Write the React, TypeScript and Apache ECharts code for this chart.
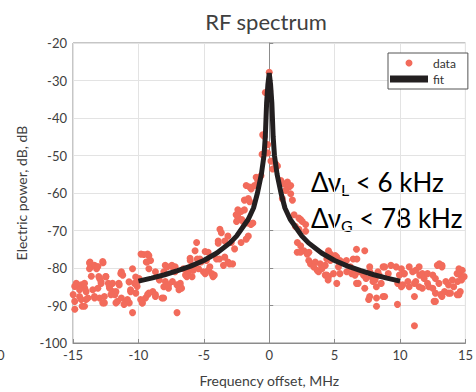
import React, { useEffect, useRef } from "react";
import * as echarts from "echarts";

const xTicks = [-15, -10, -5, 0, 5, 10, 15];
const yTicks = [-100, -90, -80, -70, -60, -50, -40, -30, -20];

const scatterFarLeft: number[][] = [
  [-14.99, -87.1], [-14.86, -91.0], [-14.7, -84.5], [-14.35, -85.0], [-14.1, -85.4], [-14.5, -87.6], [-14.0, -88.4],
  [-14.3, -90.2], [-13.7, -78.4], [-13.65, -79.7], [-13.2, -80.2], [-12.97, -82.8], [-12.85, -84.1], [-13.35, -88.0],
  [-12.97, -88.0], [-12.7, -78.6], [-12.5, -82.3], [-12.3, -84.1], [-12.2, -85.4], [-12.6, -89.3], [-11.96, -86.3],
  [-11.8, -87.1], [-11.5, -84.1], [-11.3, -81.0], [-11.2, -81.9], [-11.6, -88.9], [-11.3, -88.0], [-10.96, -88.9],
  [-10.7, -89.3], [-10.45, -80.2], [-10.3, -84.1], [-10.6, -86.3], [-10.2, -86.7], [-10.45, -91.9],
  [-13.74, -78.7], [-13.36, -79.3], [-12.73, -78.3], [-13.1, -79.6], [-13.74, -80.2], [-13.6, -82.2], [-13.03, -82.3],
  [-12.48, -82.3], [-12.86, -83.6], [-14.75, -84.1], [-14.37, -84.5], [-14.12, -84.1], [-14.87, -84.9], [-14.5, -85.8],
  [-14.0, -86.3], [-13.49, -85.8], [-13.1, -85.4], [-12.23, -84.9], [-11.98, -84.1], [-11.47, -84.5], [-11.35, -81.5],
  [-10.72, -83.7], [-10.21, -82.4], [-11.72, -86.3], [-12.1, -87.1], [-12.6, -87.6], [-13.36, -87.6], [-13.86, -88.0],
  [-14.37, -88.4], [-14.87, -88.9], [-14.12, -90.2], [-12.73, -89.3], [-11.72, -89.3], [-11.1, -89.7], [-10.84, -88.4],
  [-10.1, -84.9], [-10.6, -85.8],
];

const scatterMidLeft: number[][] = [
  [-9.95, -82.8], [-9.7, -89.3], [-9.3, -87.1], [-8.9, -86.3], [-8.7, -87.6], [-8.2, -88.0], [-9.4, -78.4], [-9.07, -78.0],
  [-9.2, -80.2], [-8.7, -81.0], [-8.4, -83.2], [-8.06, -85.0], [-7.7, -85.4], [-7.4, -83.6], [-8.06, -81.0], [-7.8, -79.7],
  [-7.4, -79.7], [-7.2, -81.0], [-7.05, -91.9], [-6.8, -84.1], [-6.7, -85.4], [-6.4, -81.9], [-6.04, -80.2], [-5.7, -79.7],
  [-5.4, -80.2], [-6.04, -78.0], [-5.5, -77.6], [-5.2, -78.4], [-9.58, -76.4], [-9.2, -76.7], [-9.33, -78.4], [-7.95, -79.3],
  [-9.96, -83.2], [-9.71, -89.3], [-9.46, -88.0], [-8.7, -87.1], [-9.2, -86.7], [-9.83, -88.4], [-9.8, -76.3], [-9.3, -76.3],
  [-7.44, -79.3], [-7.19, -79.7], [-6.56, -80.2], [-6.18, -81.0], [-5.8, -80.6], [-6.3, -82.3], [-5.9, -82.3], [-7.94, -83.6],
  [-7.7, -84.5], [-7.06, -84.5], [-6.8, -84.9], [-6.9, -85.8], [-8.07, -88.0], [-6.05, -77.4], [-5.3, -77.6], [-5.55, -73.2],
  [-5.67, -75.4],
];

const scatterNearLeft: number[][] = [
  [-5.03, -81.0], [-4.66, -80.6], [-4.4, -81.5], [-4.2, -81.9], [-4.03, -77.6], [-3.4, -77.1], [-3.15, -78.4], [-2.8, -78.9],
  [-4.67, -75.8], [-4.8, -78.0], [-3.8, -77.6], [-3.03, -78.9], [-3.5, -79.3], [-4.54, -79.7], [-4.9, -81.5], [-4.3, -82.3],
  [-3.66, -70.6], [-3.16, -71.5], [-3.9, -72.8], [-3.4, -72.8], [-2.15, -73.2], [-2.65, -74.9], [-3.77, -69.7], [-2.9, -73.2],
  [-3.9, -73.4], [-4.9, -75.6], [-2.53, -65.8], [-2.15, -64.9], [-1.9, -64.5], [-2.4, -67.1], [-2.0, -67.6], [-1.65, -68.0],
  [-1.4, -68.4], [-2.4, -64.5], [-2.4, -66.3], [-2.1, -67.1], [-2.5, -67.6], [-1.25, -68.0], [-1.6, -71.5], [-1.76, -72.3],
  [-1.9, -61.9], [-1.6, -61.5], [-1.5, -62.3], [-1.76, -58.0], [-1.5, -58.4], [-1.38, -58.9], [-1.13, -58.0], [-0.88, -56.7],
  [-1.0, -55.8], [-0.63, -55.4], [-0.38, -44.9], [-0.3, -33.2], [-0.5, -44.5], [-0.55, -49.7], [-0.13, -49.3], [-0.12, -47.1],
  [0, -27.8],
];

const scatterNearRight: number[][] = [
  [0.04, -32.8], [0.13, -51.5], [0.26, -53.6], [0.5, -52.3], [0.63, -52.8], [0.89, -56.7], [1.14, -57.6], [1.39, -57.1],
  [1.52, -58.4], [1.64, -58.0], [1.26, -59.3], [1.64, -60.2], [1.77, -61.9], [1.0, -61.5], [1.9, -65.8], [2.4, -67.1],
  [2.53, -67.6], [2.78, -68.4], [2.0, -68.9], [2.27, -69.7], [2.78, -70.2], [2.26, -66.7], [2.15, -73.2], [2.4, -74.1],
  [2.65, -75.4], [3.03, -75.8], [2.14, -75.8], [2.39, -75.8], [2.9, -76.3], [3.02, -78.0], [3.15, -78.9], [3.52, -78.4],
  [3.4, -79.7], [3.9, -78.9], [4.28, -79.3], [4.53, -75.4], [4.4, -77.6], [4.78, -77.1], [5.16, -77.1], [3.77, -81.0],
  [4.28, -81.9], [4.53, -82.3], [4.91, -81.5], [3.66, -80.6], [4.03, -80.2], [4.4, -81.9], [4.5, -83.2], [4.67, -76.3],
  [5.04, -76.7], [4.67, -78.0],
];

const scatterMidRight: number[][] = [
  [5.41, -78.0], [5.79, -78.4], [5.29, -79.7], [5.92, -81.0], [6.3, -81.5], [6.55, -81.9], [6.9, -81.0], [5.16, -84.1],
  [6.67, -84.1], [6.42, -77.6], [6.67, -75.0], [7.3, -75.4], [5.4, -81.5], [5.9, -78.0], [6.2, -79.7], [6.55, -80.6],
  [6.7, -77.6], [6.8, -84.1], [7.2, -81.9], [7.4, -82.8], [7.7, -81.0], [7.3, -85.4], [7.6, -88.4], [8.2, -88.0],
  [8.7, -87.6], [8.1, -83.2], [8.4, -81.9], [8.7, -79.7], [9.1, -81.5], [9.3, -79.3], [8.2, -90.2], [9.7, -79.7],
  [9.8, -89.7], [7.68, -79.7], [8.31, -81.0], [8.82, -79.7], [7.8, -82.3], [8.19, -85.0], [7.93, -83.6], [8.56, -84.1],
  [8.82, -87.6], [7.68, -87.6], [9.82, -84.1],
];

const scatterFarRight: number[][] = [
  [10.1, -80.2], [10.3, -81.5], [10.7, -79.7], [10.96, -81.0], [10.2, -84.5], [10.7, -85.0], [11.1, -84.1], [11.5, -81.9],
  [11.7, -81.5], [11.1, -87.6], [11.1, -95.4], [11.7, -85.4], [12.1, -84.1], [12.5, -85.4], [12.7, -86.7], [12.6, -88.9],
  [13.0, -78.9], [13.2, -79.7], [13.5, -83.6], [13.7, -84.5], [14.0, -83.2], [13.1, -87.1], [13.4, -86.3], [13.7, -86.7],
  [14.1, -85.0], [14.4, -83.6], [14.6, -81.9], [14.75, -80.6], [14.9, -82.3], [14.5, -87.1], [10.1, -85.0], [10.6, -83.6],
  [11.2, -83.6], [11.46, -85.0], [11.84, -82.8], [12.1, -81.5], [12.2, -85.0], [12.5, -81.9], [12.7, -82.8], [12.97, -84.1],
  [12.85, -79.3], [13.2, -79.3], [13.85, -86.7], [14.36, -81.5], [14.5, -80.2], [14.7, -83.2], [14.6, -86.3], [14.36, -87.1],
  [12.7, -88.9], [13.2, -87.6], [11.2, -80.6], [11.46, -79.7], [9.95, -81.9], [10.33, -81.5],
];

const fitX = [-10, -9, -8, -7, -6, -5, -4, -3, -2.5, -2, -1.6, -1.2, -0.9, -0.6, -0.4, -0.3, -0.2, -0.1, 0,
  0.1, 0.2, 0.3, 0.4, 0.6, 0.9, 1.2, 1.6, 2, 2.5, 3, 4, 5, 6, 7, 8, 9, 10];
const fitY = [-83.5, -82.7, -81.8, -80.7, -79.5, -78, -76, -73.3, -71.5, -69, -67, -64, -60, -55, -50, -45, -36, -31, -28,
  -31, -36, -45, -50, -55, -60, -64, -67, -69, -71.5, -73.3, -76, -78, -79.5, -80.7, -81.8, -82.7, -83.5];

const FONT = "Lato, 'Open Sans', sans-serif";
const TXT = "#404040";

export default function App() {
  const ref = useRef<HTMLDivElement>(null);
  useEffect(() => {
    if (!ref.current) return;
    const chart = echarts.init(ref.current, undefined, { renderer: "svg" });
    const scatter = [
      ...scatterFarLeft, ...scatterMidLeft, ...scatterNearLeft,
      ...scatterNearRight, ...scatterMidRight, ...scatterFarRight,
    ];
    const fit = fitX.map((x, i) => [x, fitY[i]]);
    const rich = {
      n: { fontFamily: FONT, fontSize: 26, color: TXT, lineHeight: 30 },
      s: { fontFamily: FONT, fontSize: 16, color: TXT, lineHeight: 30, padding: [14, 0, 0, 0] },
    };
    chart.setOption({
      animation: false,
      backgroundColor: "#ffffff",
      textStyle: { fontFamily: FONT },
      title: {
        text: "RF spectrum",
        left: 261,
        top: 5,
        textAlign: "center",
        textStyle: { fontFamily: FONT, fontSize: 22, fontWeight: "normal", color: TXT },
      },
      grid: { left: 73, right: 6, top: 43, bottom: 43, show: true, borderColor: "#8c8c8c", borderWidth: 1 },
      xAxis: {
        type: "value",
        min: xTicks[0],
        max: xTicks[xTicks.length - 1],
        interval: 5,
        name: "Frequency offset, MHz",
        nameLocation: "middle",
        nameGap: 30,
        nameTextStyle: { fontFamily: FONT, fontSize: 14, color: TXT },
        axisLine: { onZero: false, lineStyle: { color: "#8c8c8c" } },
        axisTick: { inside: true, length: 4, lineStyle: { color: "#8c8c8c" } },
        axisLabel: { fontFamily: FONT, fontSize: 13, color: TXT, margin: 5 },
        splitLine: { show: true, lineStyle: { color: "#e3e3e3" } },
      },
      yAxis: {
        type: "value",
        min: yTicks[0],
        max: yTicks[yTicks.length - 1],
        interval: 10,
        name: "Electric power, dB, dB",
        nameLocation: "middle",
        nameGap: 40,
        nameTextStyle: { fontFamily: FONT, fontSize: 14, color: TXT },
        axisLine: { show: true, lineStyle: { color: "#8c8c8c" } },
        axisTick: { show: true, inside: true, length: 4, lineStyle: { color: "#8c8c8c" } },
        axisLabel: { fontFamily: FONT, fontSize: 13, color: TXT, margin: 6 },
        splitLine: { show: true, lineStyle: { color: "#e3e3e3" } },
      },
      legend: {
        orient: "vertical",
        left: 388,
        top: 53,
        padding: [4, 12, 4, 2],
        itemGap: 4,
        itemWidth: 38,
        itemHeight: 7,
        borderColor: "#555",
        borderWidth: 1,
        backgroundColor: "#fff",
        textStyle: { fontFamily: FONT, fontSize: 12, color: "#333" },
        data: [
          { name: "data", icon: "circle" },
          { name: "fit", icon: "rect" },
        ],
      },
      series: [
        {
          name: "data",
          type: "scatter",
          data: scatter,
          symbolSize: 7,
          itemStyle: { color: "#F26B5B", opacity: 1 },
          z: 2,
        },
        {
          name: "fit",
          type: "line",
          data: fit,
          showSymbol: false,
          symbol: "none",
          lineStyle: { color: "#231f20", width: 5 },
          itemStyle: { color: "#231f20" },
          z: 3,
        },
      ],
      graphic: [
        {
          type: "text",
          x: 311,
          y: 182,
          style: { text: "{n|Δν}{s|L}{n| < 6 kHz}", textVerticalAlign: "middle", rich },
        },
        {
          type: "text",
          x: 311,
          y: 218,
          style: { text: "{n|Δν}{s|G}{n| < 78 kHz}", textVerticalAlign: "middle", rich },
        },
        {
          type: "text",
          x: -3,
          y: 355,
          style: { text: "0", fontFamily: FONT, fontSize: 13, fill: TXT, textVerticalAlign: "middle" },
        },
      ],
    });
    return () => chart.dispose();
  }, []);
  return <div ref={ref} style={{ position: "fixed", left: 0, top: 0, width: 476, height: 392 }} />;
}
